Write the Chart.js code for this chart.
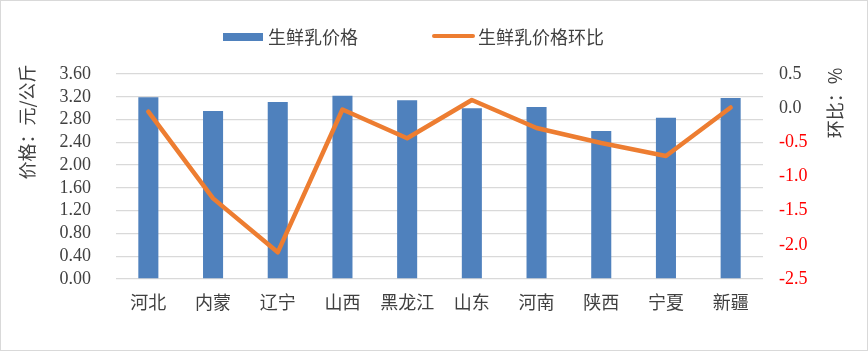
<!DOCTYPE html>
<html>
<head>
<meta charset="utf-8">
<script src="https://cdn.jsdelivr.net/npm/chart.js@4.4.1/dist/chart.umd.min.js"></script>
<style>
  html, body { margin: 0; padding: 0; background: #fff; }
  #wrap { width: 868px; height: 351px; position: relative; }
</style>
</head>
<body>
<div id="wrap"><canvas id="c" width="868" height="351"></canvas></div>
<script>
const categories = ["河北", "内蒙", "辽宁", "山西", "黑龙江", "山东", "河南", "陕西", "宁夏", "新疆"];
const priceValues = [3.19, 2.95, 3.11, 3.22, 3.14, 3.00, 3.02, 2.60, 2.83, 3.18];
const momValues = [-0.05, -1.32, -2.11, -0.02, -0.44, 0.12, -0.29, -0.51, -0.70, 0.01];
const seriesNames = ["生鲜乳价格", "生鲜乳价格环比"];
const axisTitles = ["价格：元/公斤", "环比：%"];

const cjk = '"Noto Sans CJK SC", "Noto Sans", sans-serif';
const num = '"Liberation Serif", "DejaVu Serif", serif';
const textColor = "#404040";

// legend, axis titles and frame drawn by hand to sit where the original has them
const extras = {
    id: "extras",
    afterDraw: (chart) => {
        const ctx = chart.ctx;
        ctx.save();
        ctx.strokeStyle = "#D9D9D9";
        ctx.lineWidth = 1;
        ctx.strokeRect(0.5, 0.5, 867, 350);

        ctx.font = "18px " + cjk;
        ctx.fillStyle = textColor;
        ctx.textBaseline = "middle";
        ctx.textAlign = "left";
        const ds = chart.data.datasets;
        ctx.fillStyle = ds[0].backgroundColor;
        ctx.fillRect(223, 33, 40, 8);
        ctx.fillStyle = textColor;
        ctx.fillText(ds[0].label, 268, 37);
        ctx.strokeStyle = ds[1].borderColor;
        ctx.lineWidth = 4;
        ctx.lineCap = "round";
        ctx.beginPath();
        ctx.moveTo(434, 36);
        ctx.lineTo(473, 36);
        ctx.stroke();
        ctx.fillText(ds[1].label, 478, 37);

        ctx.textAlign = "center";
        ctx.save();
        ctx.translate(27.5, 122);
        ctx.rotate(-Math.PI / 2);
        ctx.fillText(axisTitles[0], 0, 0);
        ctx.restore();
        ctx.save();
        ctx.translate(835.5, 103);
        ctx.rotate(-Math.PI / 2);
        ctx.fillText(axisTitles[1], 0, 0);
        ctx.restore();
        ctx.restore();
    }
};

new Chart(document.getElementById("c").getContext("2d"), {
    data: {
        labels: categories,
        datasets: [
            {
                type: "bar",
                label: seriesNames[0],
                data: priceValues,
                backgroundColor: "#4F81BD",
                yAxisID: "y",
                order: 1,
                categoryPercentage: 1,
                barPercentage: 0.31
            },
            {
                type: "line",
                label: seriesNames[1],
                data: momValues,
                borderColor: "#ED7D31",
                borderWidth: 4.5,
                borderCapStyle: "round",
                borderJoinStyle: "round",
                pointRadius: 0,
                tension: 0,
                yAxisID: "y1",
                order: 0
            }
        ]
    },
    options: {
        responsive: false,
        animation: false,
        layout: { padding: { top: 74, left: 0, right: 0, bottom: 0 } },
        plugins: { legend: { display: false }, tooltip: { enabled: false } },
        scales: {
            x: {
                grid: { display: false, drawTicks: false },
                border: { display: false },
                ticks: { color: textColor, font: { family: cjk, size: 18 }, padding: 12, maxRotation: 0, autoSkip: false },
                afterFit: (s) => { s.height = 72; }
            },
            y: {
                position: "left",
                min: 0,
                max: 3.6,
                ticks: {
                    stepSize: 0.4,
                    autoSkip: false,
                    color: textColor,
                    padding: 25,
                    font: { family: num, size: 18 },
                    callback: (v) => (+v).toFixed(2)
                },
                grid: { color: "#D9D9D9", lineWidth: 1.3, drawTicks: false },
                border: { display: false },
                afterFit: (s) => { s.width = 116; }
            },
            y1: {
                position: "right",
                min: -2.5,
                max: 0.5,
                ticks: {
                    stepSize: 0.5,
                    autoSkip: false,
                    padding: 16,
                    font: { family: num, size: 18 },
                    color: (c) => c.tick.value < 0 ? "#FF0000" : textColor,
                    callback: (v) => (+v).toFixed(1)
                },
                grid: { display: false, drawTicks: false },
                border: { display: false },
                afterFit: (s) => { s.width = 105; }
            }
        }
    },
    plugins: [extras]
});
</script>
</body>
</html>
